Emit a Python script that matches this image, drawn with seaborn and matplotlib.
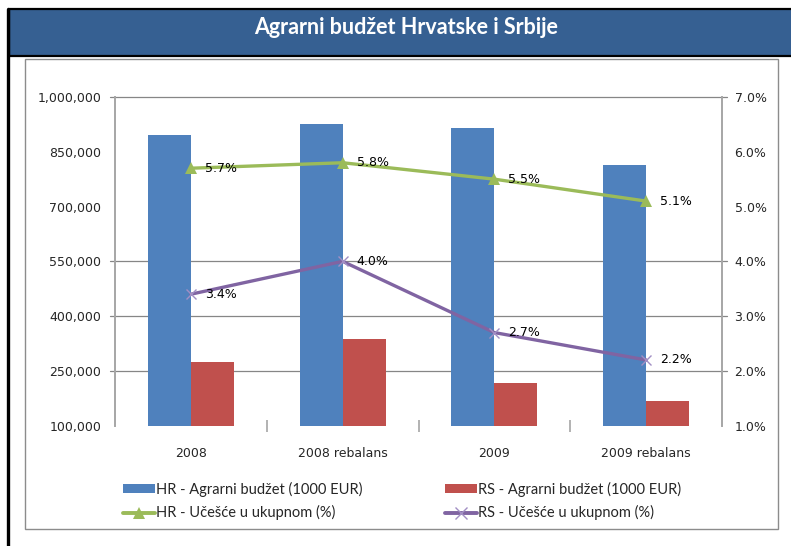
import numpy as np
import pandas as pd
import matplotlib.pyplot as plt
import seaborn as sns
from matplotlib.patches import Patch, Rectangle
from matplotlib.lines import Line2D
from matplotlib.ticker import FuncFormatter

# ----------------------------------------------------------
# Data
# ----------------------------------------------------------
categories = ["2008", "2008 rebalans", "2009", "2009 rebalans"]
hr_budget = [897000, 926000, 914000, 814000]   # 1000 EUR
rs_budget = [275000, 338000, 217000, 168000]   # 1000 EUR
hr_share = [5.7, 5.8, 5.5, 5.1]                # %
rs_share = [3.4, 4.0, 2.7, 2.2]                # %

series_names = [
    "HR - Agrarni budžet (1000 EUR)",
    "RS - Agrarni budžet (1000 EUR)",
    "HR - Učešće u ukupnom (%)",
    "RS - Učešće u ukupnom (%)",
]
left_ticks = [100000, 250000, 400000, 550000, 700000, 850000, 1000000]
grid_ticks = [250000, 400000, 550000, 1000000]
right_ticks = [1, 2, 3, 4, 5, 6, 7]

BLUE, RED, GREEN, PURPLE = "#4F81BD", "#C0504D", "#9BBB59", "#8064A2"
AXIS_GRAY = "#A6A6A6"
GRID_GRAY = "#868686"
TEXT = "#262626"

sns.set_style("white")
plt.rcParams["font.family"] = ["DejaVu Sans"]

W, H = 791, 546


def fx(x):
    return x / W


def fy(y):
    return (H - y) / H


fig = plt.figure(figsize=(W / 100, H / 100), dpi=100)

# ----------------------------------------------------------
# Frame and title banner
# ----------------------------------------------------------
fig.add_artist(Rectangle((fx(25), fy(529)), fx(778) - fx(25), fy(59) - fy(529),
                         transform=fig.transFigure, fill=False,
                         edgecolor="#8C8C8C", lw=1))
fig.add_artist(Line2D([fx(8), fx(8)], [fy(9), 0], transform=fig.transFigure,
                      color="black", lw=2.4))
fig.add_artist(Rectangle((fx(9), fy(56)), 1 - fx(9) + 0.01, fy(9) - fy(56),
                         transform=fig.transFigure, facecolor="#366092",
                         edgecolor="black", lw=1.6))
fig.text(fx(406), fy(28), "Agrarni budžet Hrvatske i Srbije", color="white",
         fontsize=15.5, fontweight="bold", family="Lato", ha="center", va="center")

# ----------------------------------------------------------
# Bars (left axis)
# ----------------------------------------------------------
plot_w = 722 - 115
ax = fig.add_axes([fx(115), fy(425.7), fx(722) - fx(115), fy(97) - fy(425.7)])

df = pd.DataFrame({
    "kategorija": categories * 2,
    "vrijednost": hr_budget + rs_budget,
    "serija": [series_names[0]] * len(categories) + [series_names[1]] * len(categories),
})
sns.barplot(data=df, x="kategorija", y="vrijednost", hue="serija",
            order=categories, hue_order=series_names[:2], palette=[BLUE, RED],
            width=0.566, gap=0, linewidth=0, saturation=1, legend=False, ax=ax)

# ----------------------------------------------------------
# Lines (right axis)
# ----------------------------------------------------------
ax2 = ax.twinx()
pos = np.arange(len(categories))
sns.lineplot(x=pos, y=hr_share, ax=ax2, color=GREEN, lw=2.4, marker="^",
             markersize=8, markeredgewidth=0, legend=False)
sns.lineplot(x=pos, y=rs_share, ax=ax2, color=PURPLE, lw=2.4, marker="x",
             markersize=7, markeredgewidth=1, markeredgecolor="#A28FC4",
             legend=False)

for i, v in enumerate(hr_share):
    ax2.annotate(f"{v:.1f}%", (i, v), xytext=(10, 0), textcoords="offset points",
                 va="center", ha="left", fontsize=9, color="black")
for i, v in enumerate(rs_share):
    ax2.annotate(f"{v:.1f}%", (i, v), xytext=(10, 0), textcoords="offset points",
                 va="center", ha="left", fontsize=9, color="black")

# ----------------------------------------------------------
# Axis styling (after twinx so nothing gets reset)
# ----------------------------------------------------------
ax.set_xlim(-0.5, len(categories) - 0.5)
ax.set_ylim(left_ticks[0], left_ticks[-1])
ax.set_yticks(left_ticks)
ax.yaxis.set_major_formatter(FuncFormatter(lambda v, p: f"{v:,.0f}"))
ax.set_xlabel("")
ax.set_ylabel("")
ax.set_xticks(range(len(categories)))
ax.set_xticklabels(categories)
ax.set_xticks(np.arange(len(categories) - 1) + 0.5, minor=True)
ax.grid(False)

# gridlines stick out a little past both axes, like tick marks
for g in grid_ticks:
    ax.axhline(g, xmin=-5 / plot_w, xmax=1 + 5 / plot_w, color=GRID_GRAY,
               lw=0.9, zorder=0.5, clip_on=False)

ax.tick_params(axis="y", which="major", length=0, pad=10, labelsize=9,
               labelcolor=TEXT)
ax.tick_params(axis="x", which="major", length=0, pad=15, labelsize=9,
               labelcolor=TEXT)
ax.tick_params(axis="x", which="minor", bottom=True, direction="inout",
               length=8, width=1.2, color=AXIS_GRAY)

for side in ["left", "right"]:
    ax.spines[side].set_color(AXIS_GRAY)
    ax.spines[side].set_linewidth(1.4)
ax.spines["bottom"].set_visible(False)
ax.spines["top"].set_visible(False)

ax2.set_ylim(right_ticks[0], right_ticks[-1])
ax2.set_yticks(right_ticks)
ax2.yaxis.set_major_formatter(FuncFormatter(lambda v, p: f"{v:.1f}%"))
ax2.tick_params(axis="y", length=0, pad=9, labelsize=9, labelcolor=TEXT)
ax2.set_xlim(-0.5, len(categories) - 0.5)
ax2.set_xlabel("")
ax2.set_ylabel("")
for s in ax2.spines.values():
    s.set_visible(False)

# ----------------------------------------------------------
# Legend
# ----------------------------------------------------------
handles = [
    Patch(facecolor=BLUE, edgecolor="none"),
    Line2D([], [], color=GREEN, lw=2.8, marker="^", markersize=8, markeredgewidth=0),
    Patch(facecolor=RED, edgecolor="none"),
    Line2D([], [], color=PURPLE, lw=2.8, marker="x", markersize=8,
           markeredgewidth=1, markeredgecolor="#A28FC4"),
]
labels = [series_names[0], series_names[2], series_names[1], series_names[3]]
fig.legend(handles, labels, ncol=2, loc="center", bbox_to_anchor=(fx(402), fy(501)),
           frameon=False, prop={"family": "Lato", "size": 10.5},
           handlelength=2.2, handleheight=0.5, handletextpad=0.1,
           columnspacing=5.6, labelspacing=0.6, labelcolor=TEXT)

fig.savefig("out.png", dpi=100)
